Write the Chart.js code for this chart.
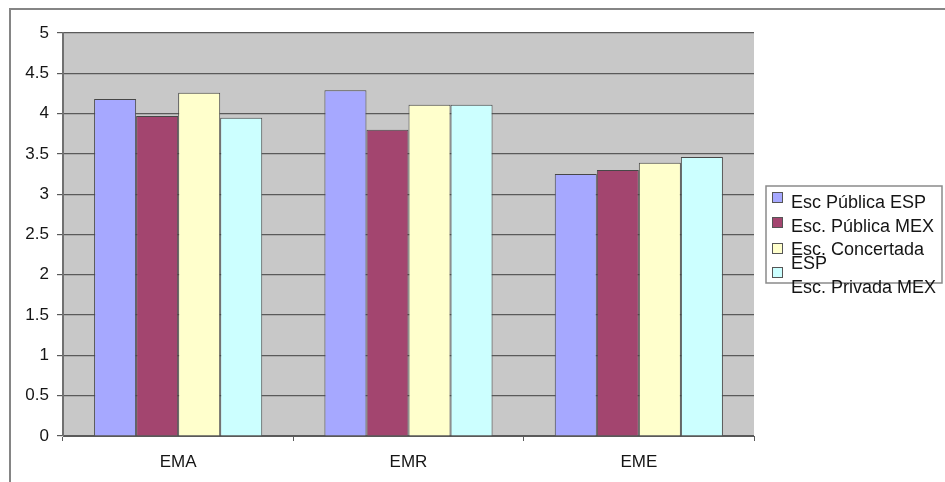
<!DOCTYPE html>
<html>
<head>
<meta charset="utf-8">
<script src="https://cdn.jsdelivr.net/npm/chart.js@4/dist/chart.umd.min.js"></script>
<style>
  html, body { margin: 0; padding: 0; background: #ffffff; }
  #wrap { position: relative; width: 945px; height: 482px; }
</style>
</head>
<body>
<div id="wrap"><canvas id="c" width="945" height="482"></canvas></div>
<script>
// Categories and series
const categories = ['EMA', 'EMR', 'EME'];
const seriesNames = ['Esc Pública ESP', 'Esc. Pública MEX', 'Esc. Concertada ESP', 'Esc. Privada MEX'];
const escPublicaESP = [4.18, 4.29, 3.25];
const escPublicaMEX = [3.97, 3.80, 3.30];
const escConcertadaESP = [4.26, 4.11, 3.39];
const escPrivadaMEX = [3.95, 4.11, 3.46];
const yTicks = [0, 0.5, 1, 1.5, 2, 2.5, 3, 3.5, 4, 4.5, 5];

const fills = ['#a6a8ff', '#a3456f', '#ffffcc', '#ccffff'];
const values = [escPublicaESP, escPublicaMEX, escConcertadaESP, escPrivadaMEX];
const FONT = 'Liberation Sans, Arial, sans-serif';
const TEXT = '#151515';

// Gray plot background, outer frame and the boxed legend
const decor = {
  id: 'decor',
  beforeDraw(chart) {
    const { ctx, chartArea: a } = chart;
    ctx.save();
    ctx.fillStyle = '#c8c8c8';
    ctx.fillRect(a.left, a.top, a.right - a.left, a.bottom - a.top);
    ctx.strokeStyle = '#858585';
    ctx.lineWidth = 2;
    ctx.beginPath();
    ctx.moveTo(10, 482);
    ctx.lineTo(10, 9);
    ctx.lineTo(945, 9);
    ctx.stroke();
    ctx.restore();
  },
  afterDraw(chart) {
    const { ctx } = chart;
    ctx.save();
    ctx.fillStyle = '#ffffff';
    ctx.fillRect(766, 186, 176, 97);
    ctx.strokeStyle = '#8a8a8a';
    ctx.lineWidth = 1.5;
    ctx.strokeRect(766, 186, 176, 97);
    const rows = [
      { sw: 192, lines: [['Esc Pública ESP', 203]] },
      { sw: 217, lines: [['Esc. Pública MEX', 227]] },
      { sw: 243, lines: [['Esc. Concertada', 250], ['ESP', 264]] },
      { sw: 267, lines: [['Esc. Privada MEX', 288]] }
    ];
    ctx.font = '18px ' + FONT;
    ctx.textBaseline = 'middle';
    ctx.textAlign = 'left';
    rows.forEach((r, i) => {
      ctx.fillStyle = fills[i];
      ctx.fillRect(772.5, r.sw + 0.5, 10, 10);
      ctx.strokeStyle = '#555555';
      ctx.lineWidth = 1;
      ctx.strokeRect(772.5, r.sw + 0.5, 10, 10);
      ctx.fillStyle = TEXT;
      r.lines.forEach(([t, y]) => ctx.fillText(t, 791, y));
    });
    ctx.restore();
  }
};

new Chart(document.getElementById('c'), {
  type: 'bar',
  data: {
    labels: categories,
    datasets: seriesNames.map((name, i) => ({
      label: name,
      data: values[i],
      backgroundColor: fills[i],
      borderColor: '#474747',
      borderWidth: 1,
      borderSkipped: 'bottom',
      categoryPercentage: 0.73,
      barPercentage: 1.0
    }))
  },
  options: {
    responsive: false,
    animation: false,
    events: [],
    layout: { padding: { left: 0, top: 33, right: 191, bottom: 0 } },
    plugins: { legend: { display: false }, tooltip: { enabled: false } },
    scales: {
      x: {
        offset: true,
        grid: { offset: true, drawOnChartArea: false, drawTicks: true, tickLength: 5, color: '#5a5a5a' },
        border: { display: true, color: '#5a5a5a', width: 1 },
        ticks: { color: TEXT, font: { family: FONT, size: 17 }, padding: 11, maxRotation: 0 },
        afterFit(s) { s.height = 46; }
      },
      y: {
        min: 0,
        max: 5,
        afterBuildTicks(s) { s.ticks = yTicks.map(v => ({ value: v })); },
        grid: { color: '#5a5a5a', lineWidth: 1.2, tickLength: 6, drawTicks: true },
        border: { display: true, color: '#707070', width: 2 },
        ticks: { color: TEXT, font: { family: FONT, size: 17 }, padding: 8,
                 callback: v => String(v) },
        afterFit(s) { s.width = 63; }
      }
    }
  },
  plugins: [decor]
});
</script>
</body>
</html>
